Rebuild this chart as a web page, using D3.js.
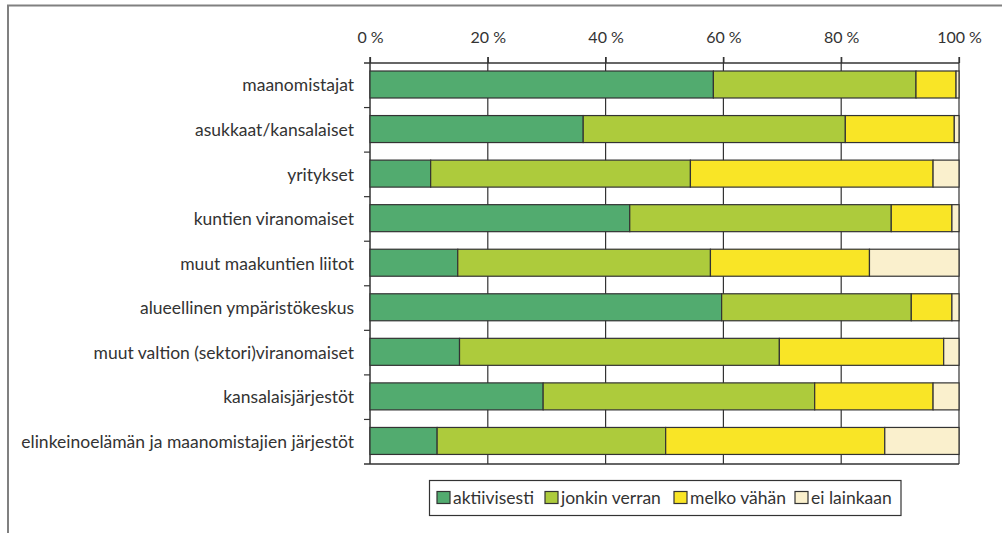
<!DOCTYPE html>
<html><head><meta charset="utf-8">
<script src="https://cdn.jsdelivr.net/npm/d3@7"></script>
<style>
html,body{margin:0;padding:0;background:#fff;}
svg{display:block;font-family:Lato,"Open Sans",sans-serif;}
</style></head>
<body>
<svg id="chart" width="1002" height="533"></svg>
<script>
const categories = [
  "maanomistajat",
  "asukkaat/kansalaiset",
  "yritykset",
  "kuntien viranomaiset",
  "muut maakuntien liitot",
  "alueellinen ympäristökeskus",
  "muut valtion (sektori)viranomaiset",
  "kansalaisjärjestöt",
  "elinkeinoelämän ja maanomistajien järjestöt"
];
const seriesNames = ["aktiivisesti", "jonkin verran", "melko vähän", "ei lainkaan"];
const aktiivisesti = [58.3, 36.2, 10.3, 44.1, 14.9, 59.7, 15.2, 29.4, 11.4];
const jonkinVerran = [34.4, 44.5, 44.1, 44.4, 42.9, 32.2, 54.3, 46.1, 38.8];
const melkoVahan   = [ 6.8, 18.5, 41.2, 10.3, 27.0,  6.9, 27.9, 20.1, 37.2];
const eiLainkaan   = [ 0.5,  0.8,  4.4,  1.2, 15.2,  1.2,  2.6,  4.4, 12.6];
const tickValues = [0, 20, 40, 60, 80, 100];
const tickLabels = ["0 %", "20 %", "40 %", "60 %", "80 %", "100 %"];
const colors = ["#52ab6f", "#adcb3c", "#f9e526", "#faf0cd"];

const svg = d3.select("#chart");
const seriesValues = [aktiivisesti, jonkinVerran, melkoVahan, eiLainkaan];
const rows = categories.map((c, i) => {
  const r = {cat: c};
  seriesNames.forEach((s, j) => r[s] = seriesValues[j][i]);
  return r;
});
const stacked = d3.stack().keys(seriesNames)(rows);

const x = d3.scaleLinear().domain([0, 100]).range([370, 959]);
const plotTop = 63, plotBottom = 464;
const bandStep = (plotBottom - plotTop) / categories.length;
const ink = "#333";

// frame
svg.append("path").attr("d", "M8,533 V5.5 H1002").attr("fill", "none")
  .attr("stroke", "#808080").attr("stroke-width", 2);

// gridlines
svg.append("g").selectAll("line").data(tickValues.slice(1)).join("line")
  .attr("x1", d => x(d)).attr("x2", d => x(d))
  .attr("y1", plotTop - 6).attr("y2", plotBottom)
  .attr("stroke", ink).attr("stroke-width", 1.2);

// top axis
const xAxis = d3.axisTop(x).tickValues(tickValues).tickSize(6).tickPadding(14)
  .tickFormat((d, i) => tickLabels[i]);
const gx = svg.append("g").attr("transform", `translate(0,${plotTop})`).call(xAxis);
gx.select(".domain").remove();
gx.selectAll(".tick line").attr("stroke", ink).attr("stroke-width", 1.2);
gx.selectAll(".tick text").attr("fill", ink).attr("font-size", 16).attr("font-family", "Lato, sans-serif");
svg.append("line").attr("x1", 364).attr("x2", 959).attr("y1", plotTop).attr("y2", plotTop)
  .attr("stroke", ink).attr("stroke-width", 1.5);
svg.append("line").attr("x1", 364).attr("x2", 959).attr("y1", plotBottom).attr("y2", plotBottom)
  .attr("stroke", ink).attr("stroke-width", 1.5);

// y axis
const boundaries = categories.map((c, i) => plotTop + bandStep * i);
svg.append("g").selectAll("line").data(boundaries.slice(1)).join("line")
  .attr("x1", 364).attr("x2", 370).attr("y1", d => d).attr("y2", d => d)
  .attr("stroke", ink).attr("stroke-width", 1.2);
svg.append("line").attr("x1", 370).attr("x2", 370).attr("y1", plotTop - 6).attr("y2", plotBottom)
  .attr("stroke", ink).attr("stroke-width", 1.5);

svg.append("g").selectAll("text").data(categories).join("text")
  .attr("x", 354)
  .attr("y", (d, i) => plotTop + bandStep * (i + 0.5))
  .attr("dy", "0.35em")
  .attr("text-anchor", "end")
  .attr("fill", ink).attr("font-size", 17.5)
  .text(d => d);

// bars
svg.append("g").selectAll("g").data(stacked).join("g")
  .attr("fill", (d, i) => colors[i])
  .selectAll("rect").data(d => d).join("rect")
  .attr("x", d => x(d[0]))
  .attr("width", d => x(d[1]) - x(d[0]))
  .attr("y", (d, i) => plotTop + bandStep * i + 8)
  .attr("height", 27)
  .attr("stroke", ink).attr("stroke-width", 1.2);

// legend
const lg = svg.append("g");
lg.append("rect").attr("x", 429.5).attr("y", 480.5).attr("width", 471.5).attr("height", 35)
  .attr("fill", "#fff").attr("stroke", ink).attr("stroke-width", 1.2);
const legendX = [437, 545, 674, 795];
const items = lg.selectAll("g.item").data(seriesNames).join("g")
  .attr("transform", (d, i) => `translate(${legendX[i]},491.5)`);
items.append("rect").attr("width", 13).attr("height", 12)
  .attr("fill", (d, i) => colors[i]).attr("stroke", ink).attr("stroke-width", 1.2);
items.append("text").attr("x", 16).attr("y", 6).attr("dy", "0.35em")
  .attr("fill", ink).attr("font-size", 17.5).text(d => d);
</script>
</body></html>
